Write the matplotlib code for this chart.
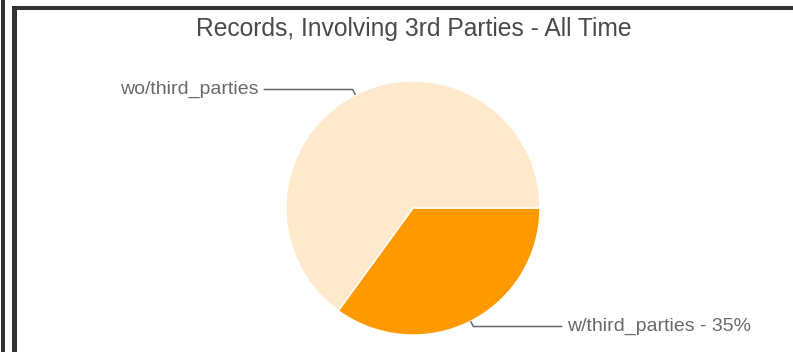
import numpy as np
import matplotlib
matplotlib.use("Agg")
import matplotlib.pyplot as plt
from matplotlib.patches import Rectangle

plt.rcParams['font.family'] = ['Liberation Sans', 'DejaVu Sans']

# data
title = "Records, Involving 3rd Parties - All Time"
labels = ["w/third_parties", "wo/third_parties"]
shares = [35, 65]
show_pct = [True, False]
colors = ["#ff9900", "#ffe9cc"]

W, H = 793, 352


def main():
    fig = plt.figure(figsize=(W / 100, H / 100), dpi=100)
    fig.patch.set_facecolor("white")

    # frame bars, in figure pixels
    border = "#333333"
    fig.patches.append(Rectangle((1 / W, 0), 4 / W, 1, transform=fig.transFigure,
                                 facecolor=border, edgecolor="none"))
    fig.patches.append(Rectangle((12 / W, 0), 5 / W, (H - 6) / H, transform=fig.transFigure,
                                 facecolor=border, edgecolor="none"))
    fig.patches.append(Rectangle((12 / W, (H - 10) / H), 1, 4 / H, transform=fig.transFigure,
                                 facecolor=border, edgecolor="none"))

    ax = fig.add_axes([0, 0, 1, 1])
    cx, cy, r = 413, H - 208, 127
    wedges, _ = ax.pie(shares, colors=colors, startangle=0, counterclock=False,
                       center=(cx, cy), radius=r,
                       wedgeprops=dict(edgecolor="white", linewidth=1))
    ax.set_xlim(0, W)
    ax.set_ylim(0, H)
    ax.set_aspect("auto")
    ax.axis("off")

    # leader lines from the middle of each wedge
    for w, lab, pct, val in zip(wedges, labels, show_pct, shares):
        mid = np.deg2rad((w.theta1 + w.theta2) / 2)
        dx, dy = np.cos(mid), np.sin(mid)
        x0, y0 = cx + r * dx, cy + r * dy
        x1, y1 = cx + (r + 6) * dx, cy + (r + 6) * dy
        side = 1 if dx >= 0 else -1
        x2 = x1 + side * 89
        ax.plot([x0, x1, x2], [y0, y1, y1], color="#6a6a6a", lw=1.1,
                solid_capstyle="butt")
        text = f"{lab} - {val}%" if pct else lab
        ax.text(x2 + side * 5, y1, text, ha="left" if side > 0 else "right",
                va="center", fontsize=14, color="#6a6a6a")

    fig.text(413.5 / W, 1 - 29 / H, title, ha="center", va="center",
             fontsize=17.7, color="#4a4a4a")

    fig.savefig("out.png", dpi=100)


if __name__ == "__main__":
    main()
